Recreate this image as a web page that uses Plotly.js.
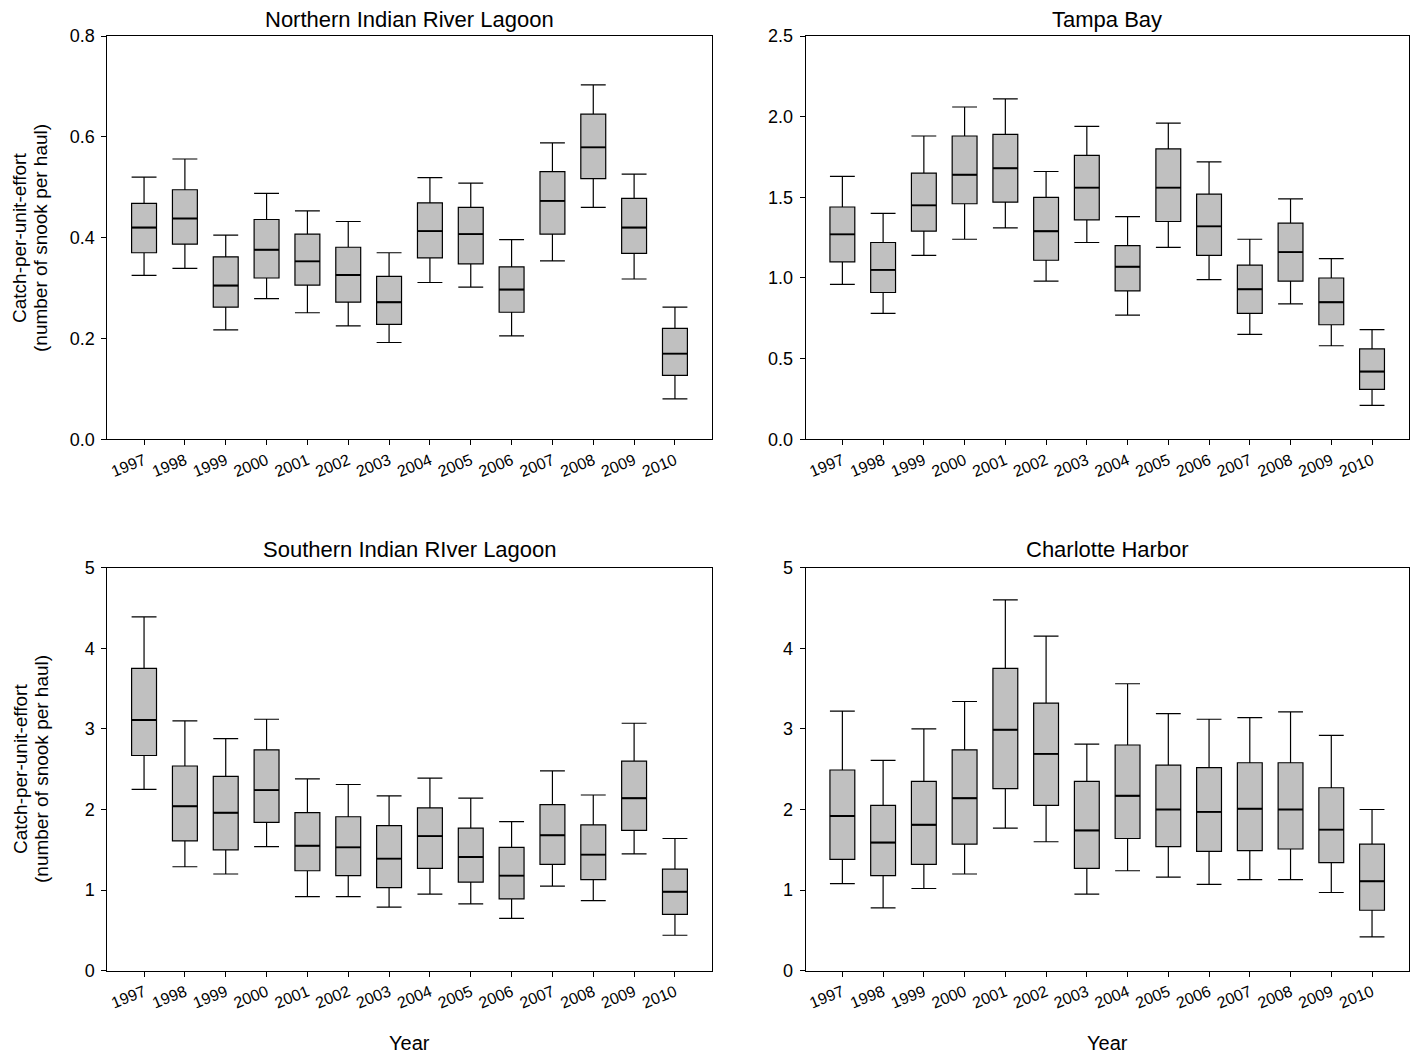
<!DOCTYPE html>
<html>
<head>
<meta charset="utf-8">
<script src="https://cdn.plot.ly/plotly-3.0.1.min.js"></script>
<style>html,body{margin:0;padding:0;background:#fff;}#chart{width:1412px;height:1056px;}</style>
</head>
<body>
<div id="chart"></div>
<script>
const years = ['1997','1998','1999','2000','2001','2002','2003','2004','2005','2006','2007','2008','2009','2010'];

// Northern Indian River Lagoon
const nirlUpper = [0.520,0.556,0.405,0.488,0.453,0.432,0.370,0.519,0.508,0.396,0.588,0.703,0.526,0.262];
const nirlQ3    = [0.468,0.495,0.362,0.436,0.407,0.381,0.323,0.469,0.460,0.342,0.531,0.645,0.478,0.220];
const nirlMed   = [0.420,0.438,0.305,0.376,0.353,0.326,0.272,0.413,0.407,0.297,0.473,0.579,0.420,0.170];
const nirlQ1    = [0.370,0.387,0.262,0.320,0.306,0.272,0.228,0.360,0.348,0.252,0.407,0.517,0.369,0.127];
const nirlLower = [0.325,0.339,0.217,0.279,0.251,0.225,0.192,0.311,0.302,0.205,0.354,0.460,0.318,0.080];

// Tampa Bay
const tbUpper = [1.63,1.40,1.88,2.06,2.11,1.66,1.94,1.38,1.96,1.72,1.24,1.49,1.12,0.68];
const tbQ3    = [1.44,1.22,1.65,1.88,1.89,1.50,1.76,1.20,1.80,1.52,1.08,1.34,1.00,0.56];
const tbMed   = [1.27,1.05,1.45,1.64,1.68,1.29,1.56,1.07,1.56,1.32,0.93,1.16,0.85,0.42];
const tbQ1    = [1.10,0.91,1.29,1.46,1.47,1.11,1.36,0.92,1.35,1.14,0.78,0.98,0.71,0.31];
const tbLower = [0.96,0.78,1.14,1.24,1.31,0.98,1.22,0.77,1.19,0.99,0.65,0.84,0.58,0.21];

// Southern Indian River Lagoon
const sirlUpper = [4.39,3.10,2.88,3.12,2.38,2.31,2.17,2.39,2.14,1.85,2.48,2.18,3.07,1.64];
const sirlQ3    = [3.75,2.54,2.41,2.74,1.96,1.91,1.80,2.02,1.77,1.53,2.06,1.81,2.60,1.26];
const sirlMed   = [3.11,2.04,1.96,2.24,1.55,1.53,1.39,1.67,1.41,1.18,1.68,1.44,2.14,0.98];
const sirlQ1    = [2.67,1.61,1.50,1.84,1.24,1.18,1.03,1.27,1.10,0.89,1.32,1.13,1.74,0.70];
const sirlLower = [2.25,1.29,1.20,1.54,0.92,0.92,0.79,0.95,0.83,0.65,1.05,0.87,1.45,0.44];

// Charlotte Harbor
const chUpper = [3.22,2.61,3.00,3.34,4.60,4.15,2.81,3.56,3.19,3.12,3.14,3.21,2.92,2.00];
const chQ3    = [2.49,2.05,2.35,2.74,3.75,3.32,2.35,2.80,2.55,2.52,2.58,2.58,2.27,1.57];
const chMed   = [1.92,1.59,1.81,2.14,2.99,2.69,1.74,2.17,2.00,1.97,2.01,2.00,1.75,1.11];
const chQ1    = [1.38,1.18,1.32,1.57,2.26,2.05,1.27,1.64,1.54,1.48,1.49,1.51,1.34,0.75];
const chLower = [1.08,0.78,1.02,1.20,1.77,1.60,0.95,1.24,1.16,1.07,1.13,1.13,0.97,0.42];

const FONT = 'Liberation Sans, Arial, Helvetica, sans-serif';

function boxTrace(q1, med, q3, lo, hi, xa, ya) {
  return {
    type: 'box', x: years, q1: q1, median: med, q3: q3,
    lowerfence: lo, upperfence: hi,
    xaxis: xa, yaxis: ya,
    fillcolor: '#c0c0c0', line: {color: '#000000', width: 1.2},
    width: 0.61, whiskerwidth: 1, boxpoints: false,
    hoverinfo: 'skip', showlegend: false
  };
}
// thicker median line drawn on top (zero-height box at the median)
function medianTrace(med, xa, ya) {
  return {
    type: 'box', x: years, q1: med, median: med, q3: med,
    lowerfence: med, upperfence: med,
    xaxis: xa, yaxis: ya,
    fillcolor: 'rgba(0,0,0,0)', line: {color: '#000000', width: 1.9},
    width: 0.61, whiskerwidth: 0, boxpoints: false,
    hoverinfo: 'skip', showlegend: false
  };
}

const data = [
  boxTrace(nirlQ1, nirlMed, nirlQ3, nirlLower, nirlUpper, 'x', 'y'),
  boxTrace(tbQ1, tbMed, tbQ3, tbLower, tbUpper, 'x2', 'y2'),
  boxTrace(sirlQ1, sirlMed, sirlQ3, sirlLower, sirlUpper, 'x3', 'y3'),
  boxTrace(chQ1, chMed, chQ3, chLower, chUpper, 'x4', 'y4'),
  medianTrace(nirlMed, 'x', 'y'),
  medianTrace(tbMed, 'x2', 'y2'),
  medianTrace(sirlMed, 'x3', 'y3'),
  medianTrace(chMed, 'x4', 'y4')
];

const W = 1412, H = 1056;
const colL = [107.3 / W, 711.7 / W];
const colR = [805.7 / W, 1408.7 / W];
const rowT = [1 - 439.3 / H, 1 - 36 / H];
const rowB = [1 - 970.7 / H, 1 - 567.7 / H];

function xAxis(domain, anchor) {
  return {
    domain: domain, anchor: anchor, type: 'category', range: [-0.9, 13.9],
    showline: true, mirror: true, linecolor: '#000', linewidth: 1,
    ticks: 'outside', ticklen: 5, tickwidth: 1, tickcolor: '#000',
    tickangle: -22, showgrid: false, zeroline: false, fixedrange: true,
    boxmode: undefined,
    tickfont: {family: FONT, size: 16, color: '#000'}
  };
}
function yAxis(domain, anchor, range, dtick, fmt) {
  return {
    domain: domain, anchor: anchor, range: range, dtick: dtick, tick0: 0,
    tickformat: fmt,
    showline: true, mirror: true, linecolor: '#000', linewidth: 1,
    ticks: 'outside', ticklen: 5, tickwidth: 1, tickcolor: '#000',
    ticklabelstandoff: 3,
    showgrid: false, zeroline: false, fixedrange: true,
    tickfont: {family: FONT, size: 18, color: '#000'}
  };
}

function title(text, dom, yPix) {
  return {text: text, xref: 'paper', yref: 'paper', x: (dom[0] + dom[1]) / 2, y: 1 - yPix / H,
    xanchor: 'center', yanchor: 'middle', showarrow: false,
    font: {family: FONT, size: 22, color: '#000'}};
}
function yTitleLine(text, xPix, cy) {
  return {text: text, xref: 'paper', yref: 'paper', x: xPix / W, y: 1 - cy / H,
    xanchor: 'center', yanchor: 'middle', showarrow: false, textangle: -90,
    font: {family: FONT, size: 19, color: '#000'}};
}
function xTitle(dom) {
  return {text: 'Year', xref: 'paper', yref: 'paper', x: (dom[0] + dom[1]) / 2, y: 1 - 1043 / H,
    xanchor: 'center', yanchor: 'middle', showarrow: false,
    font: {family: FONT, size: 20, color: '#000'}};
}

const layout = {
  width: W, height: H, autosize: false,
  margin: {l: 0, r: 0, t: 0, b: 0},
  paper_bgcolor: '#fff', plot_bgcolor: '#fff',
  font: {family: FONT, color: '#000'},
  showlegend: false,
  boxmode: 'overlay',
  xaxis: xAxis(colL, 'y'),
  yaxis: yAxis(rowT, 'x', [0, 0.8], 0.2, '.1f'),
  xaxis2: xAxis(colR, 'y2'),
  yaxis2: yAxis(rowT, 'x2', [0, 2.5], 0.5, '.1f'),
  xaxis3: xAxis(colL, 'y3'),
  yaxis3: yAxis(rowB, 'x3', [0, 5], 1, 'd'),
  xaxis4: xAxis(colR, 'y4'),
  yaxis4: yAxis(rowB, 'x4', [0, 5], 1, 'd'),
  annotations: [
    title('Northern Indian River Lagoon', colL, 20),
    title('Tampa Bay', colR, 20),
    title('Southern Indian RIver Lagoon', colL, 549),
    title('Charlotte Harbor', colR, 549),
    yTitleLine('Catch-per-unit-effort', 20, 238),
    yTitleLine('(number of snook per haul)', 41, 238),
    yTitleLine('Catch-per-unit-effort', 20, 769),
    yTitleLine('(number of snook per haul)', 41, 769),
    xTitle(colL),
    xTitle(colR)
  ]
};

Plotly.newPlot('chart', data, layout, {displayModeBar: false, staticPlot: true});
</script>
</body>
</html>
